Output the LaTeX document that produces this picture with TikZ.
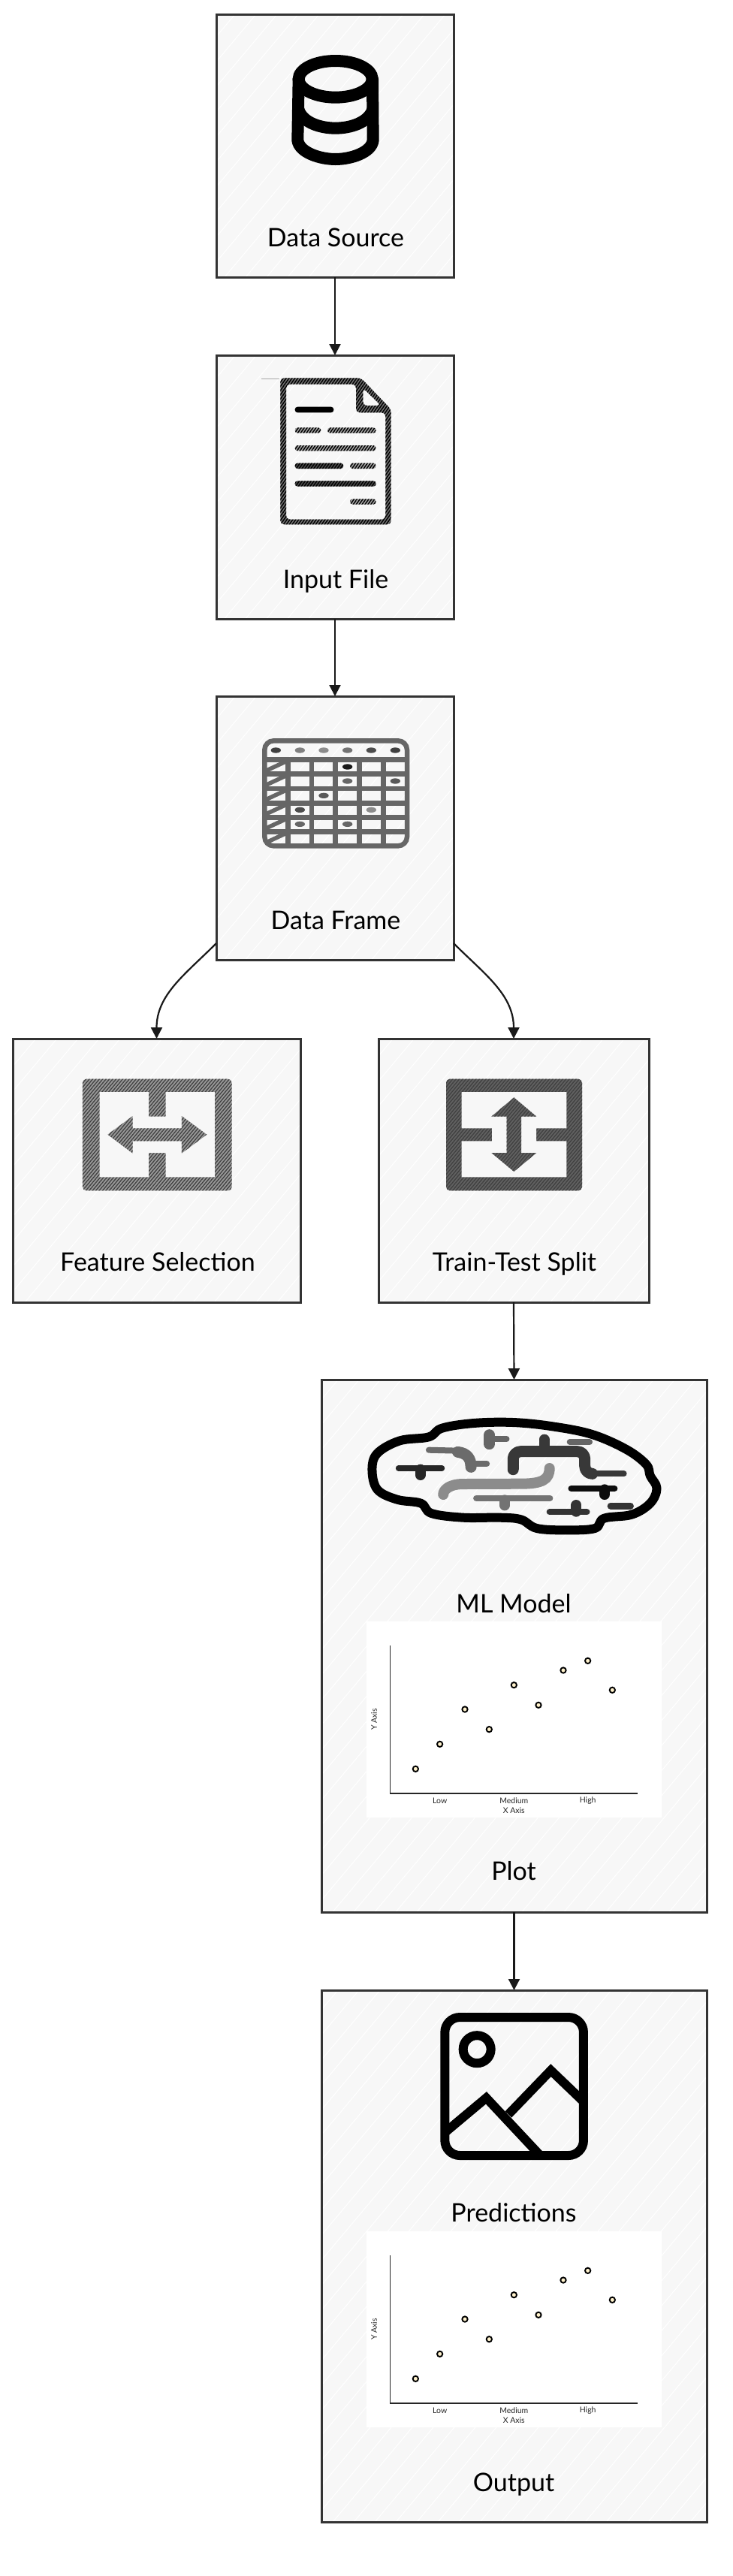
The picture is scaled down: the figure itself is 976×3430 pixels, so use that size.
\documentclass[tikz,border=0pt]{standalone}
\usepackage{fontspec}
\setmainfont{Lato}
\usetikzlibrary{arrows.meta,patterns.meta,calc}
\definecolor{boxfill}{HTML}{F7F7F7}
\definecolor{boxline}{HTML}{333333}
\definecolor{dotfill}{HTML}{FFF2CC}
\tikzset{
  sketchbox/.style={draw=boxline,line width=3pt,fill=boxfill,inner sep=0pt,outer sep=0pt,
    minimum width=#1,
    path picture={\foreach \k in {-22,...,22}{\draw[white,line width=1pt] (\k*28-420,500) -- (\k*28+420,-500);}}},
  boxlabel/.style={font=\fontsize{34}{40}\selectfont,text=black,inner sep=0pt,anchor=base},
  plotlabel/.style={font=\fontsize{10.5}{12}\selectfont,text=black!85,inner sep=0pt},
  flow/.style={draw=black!90,line width=2.2pt,-{Triangle[length=15pt,width=15pt]}},
  hatched/.style={preaction={fill=#1},pattern={Lines[angle=55,distance=3.2pt,line width=1.5pt]},pattern color=black},
  hatchedb/.style={preaction={fill=#1},pattern={Lines[angle=50,distance=3.4pt,line width=1.3pt]},pattern color=black!75},
  fold/.style={line cap=round,line join=round,line width=#1},
  dot/.style={draw=black,line width=1.9pt,fill=dotfill},
  scatterplot/.pic={
    \begin{scope}[x=0.33333pt,y=-0.33333pt]
      \fill[white] (54,58) rectangle (1232,840);
      \draw[black!85,line width=1.3pt] (149,153) -- (149,744) -- (1136,744);
      \foreach \p in {(250,646),(347,547),(447,408),(544,488),(643,311),(741,391),(840,252),(938,214),(1036,331)}
        \path[dot] \p circle[radius=11];
      \node[plotlabel] (low) at (347,773) {Low};
      \node[plotlabel] (medium) at (643,773) {Medium};
      \node[plotlabel] (high) at (938,773) {High};
      \node[plotlabel] (xaxis) at (643,812) {X Axis};
      \node[plotlabel,rotate=90] (yaxis) at (84,448) {Y Axis};
    \end{scope}
  }
}
\begin{document}
\begin{tikzpicture}[x=1pt,y=-1pt]
\useasboundingbox[fill=white] (0,0) rectangle (976,3430);
% boxes
\node[sketchbox=316pt,minimum height=350pt] (ds) at (446,194) {};
\node[sketchbox=316pt,minimum height=351pt] (if) at (446,648.5) {};
\node[sketchbox=316pt,minimum height=351pt] (df) at (446,1102.5) {};
\node[sketchbox=383pt,minimum height=351pt] (fs) at (208.5,1558.5) {};
\node[sketchbox=360pt,minimum height=351pt] (tt) at (684,1558.5) {};
\node[sketchbox=513pt,minimum height=709pt] (ml) at (684.5,2191.5) {};
\node[sketchbox=513pt,minimum height=708pt] (pr) at (684.5,3004) {};
% labels
\node[boxlabel] (dsl) at (447,328) {Data Source};
\node[boxlabel] (ifl) at (447,783) {Input File};
\node[boxlabel] (dfl) at (447,1237) {Data Frame};
\node[boxlabel] (fsl) at (210,1692) {Feature Selection};
\node[boxlabel] (ttl) at (685,1692) {Train-Test Split};
\node[boxlabel] (mll) at (684,2147) {ML Model};
\node[boxlabel] (pll) at (684,2503) {Plot};
\node[boxlabel] (prl) at (684,2958) {Predictions};
\node[boxlabel] (oul) at (684,3317) {Output};
% connectors
\draw[flow] (ds.south) -- (if.north);
\draw[flow] (if.south) -- (df.north);
\draw[flow] ([yshift=22pt]df.south west) to[out=-135,in=90] (fs.north);
\draw[flow] ([yshift=22pt]df.south east) to[out=-45,in=90] (tt.north);
\draw[flow] (tt.south) -- (ml.north);
\draw[flow] (ml.south) -- (pr.north);
% database icon
\begin{scope}[shift={(270,0)},x=0.33333pt,y=-0.33333pt,line width=16pt,draw=black,line cap=round]
  \draw (530,316) ellipse[x radius=147,y radius=73];
  \draw (383,316) -- (379,560) .. controls (385,610) and (470,636) .. (530,636) .. controls (590,636) and (675,610) .. (680,560) -- (678,316);
  \draw (383,440) .. controls (400,490) and (470,512) .. (530,512) .. controls (590,512) and (660,490) .. (678,440);
\end{scope}
% file icon
\begin{scope}[shift={(270,450)},x=0.33333pt,y=-0.33333pt,even odd rule]
  \path[hatched=black!55,rounded corners=5pt]
    (310,160) -- (632,160) -- (752,285) -- (752,745) -- (310,745) -- cycle
    (333,185) -- (612,185) -- (612,298) -- (730,298) -- (730,725) -- (333,725) -- cycle
    (640,200) -- (640,270) -- (712,270) -- cycle;
  \draw[black!35,line width=.5pt] (235,162) -- (305,162);
  \fill[black,rounded corners=3.5pt] (368,275) rectangle (523,298);
  \path[hatched=black!35,rounded corners=3.5pt] (368,358) rectangle (472,380);
  \path[hatched=black!35,rounded corners=3.5pt] (498,358) rectangle (692,380);
  \path[hatched=black!35,rounded corners=3.5pt] (368,429) rectangle (692,451);
  \path[hatched=black!70,rounded corners=3.5pt] (368,500) rectangle (562,522);
  \path[hatched=black!35,rounded corners=3.5pt] (588,500) rectangle (692,522);
  \path[hatched=black!70,rounded corners=3.5pt] (368,571) rectangle (692,593);
  \path[hatched=black!35,rounded corners=3.5pt] (588,643) rectangle (692,665);
\end{scope}
% table icon
\begin{scope}[shift={(270,920)},x=0.33333pt,y=-0.33333pt,draw=black!60,line width=6.5pt]
  \draw[rounded corners=12pt] (247,199) rectangle (816,619);
  \draw (247,275) -- (816,275);
  \foreach \y in {332,390,448,505,562} \draw (247,\y) -- (816,\y);
  \foreach \x in {340,435,530,626,722} \draw (\x,275) -- (\x,619);
  \foreach \y in {275,332,390,448,505,562} \draw[line width=5.5pt] (250,\y+45) -- (338,\y+4);
  \foreach \x/\c in {292/75,388/50,483/45,578/55,673/70,769/75}
    \fill[black!\c] (\x,237) ellipse[x radius=20,y radius=11];
  \fill[black!90] (578,303) ellipse[x radius=20,y radius=11];
  \foreach \x/\y/\c in {578/360/60,769/360/65,483/418/65,388/475/70,673/475/45,388/532/60,578/532/60}
    \fill[black!\c] (\x,\y) ellipse[x radius=20,y radius=11];
\end{scope}
% feature selection icon
\begin{scope}[shift={(0,1360)},x=0.33333pt,y=-0.33333pt,even odd rule]
  \path[hatchedb=black!40,rounded corners=5pt] (330,230) rectangle (926,676);
  \fill[boxfill] (398,282) -- (594,282) -- (594,380) -- (662,380) -- (662,282) -- (858,282) -- (858,622)
    -- (662,622) -- (662,525) -- (594,525) -- (594,622) -- (398,622) -- cycle;
  \path[hatchedb=black!40] (430,452) -- (530,378) -- (530,427) -- (726,427) -- (726,378) -- (826,452) -- (726,527) -- (726,478) -- (530,478) -- (530,527) -- cycle;
\end{scope}
% train-test split icon
\begin{scope}[shift={(490,1360)},x=0.33333pt,y=-0.33333pt,even odd rule]
  \path[hatchedb=black!62,rounded corners=5pt] (312,230) rectangle (855,676);
  \fill[boxfill] (374,282) -- (793,282) -- (793,427) -- (672,427) -- (672,478) -- (793,478) -- (793,622) -- (374,622)
    -- (374,478) -- (495,478) -- (495,427) -- (374,427) -- cycle;
  \path[hatchedb=black!62] (583,304) -- (673,380) -- (612,380) -- (612,525) -- (673,525) -- (583,600) -- (493,525) -- (554,525) -- (554,380) -- (493,380) -- cycle;
\end{scope}
% brain icon
\begin{scope}[shift={(420,1820)},x=0.351pt,y=-0.33333pt]
  \draw[black,line width=12pt,line join=round] plot[smooth cycle,tension=.6] coordinates {
    (215,410) (235,345) (320,295) (430,280) (480,245) (600,225) (750,222) (900,238) (1050,270) (1180,330)
    (1255,390) (1270,435) (1295,485) (1270,545) (1200,590) (1095,605) (1060,645) (950,652) (840,645) (780,610)
    (700,602) (560,602) (440,585) (400,545) (310,530) (235,490)};
  \draw[fold=15pt,black!60] (660,272) -- (660,308);
  \draw[fold=8pt,black!60] (680,288) -- (725,288);
  \draw[fold=8pt,black!58] (430,332) -- (540,335);
  \draw[fold=15pt,black!58] (540,340) .. controls (575,345) and (590,365) .. (590,400);
  \draw[fold=8pt,black!58] (610,387) -- (650,387);
  \draw[fold=7.5pt,black!85] (315,405) -- (480,405);
  \draw[fold=14pt,black!85] (398,410) -- (398,432);
  \draw[fold=15pt,black!78,rounded corners=10pt] (750,410) -- (750,338) -- (1022,338) -- (1022,427) -- (1050,427);
  \draw[fold=8pt,black!78] (1050,427) -- (1170,427);
  \draw[fold=14pt,black!78] (868,290) -- (868,335);
  \draw[fold=8pt,black!60] (965,300) -- (1040,300);
  \draw[fold=14pt,black!45] (888,405) .. controls (888,450) and (860,467) .. (780,467) -- (560,468) .. controls (510,468) and (485,490) .. (485,510);
  \draw[fold=8pt,black!55] (610,525) -- (890,525);
  \draw[fold=14pt,black!55] (718,532) -- (718,553);
  \draw[fold=8pt,black!95] (970,486) -- (1135,486);
  \draw[fold=14pt,black!95] (1097,490) -- (1097,510);
  \draw[fold=8pt,black!80] (888,580) -- (1030,580);
  \draw[fold=14pt,black!80] (990,552) -- (990,578);
  \draw[fold=9pt,black!80] (1120,555) -- (1195,555);
\end{scope}
% plots
\pic (pa) at (470,2140) {scatterplot};
\pic (pb) at (470,2952) {scatterplot};
% image icon
\begin{scope}[shift={(420,2640)},x=0.351pt,y=-0.33333pt,draw=black,line width=12pt]
  \draw[rounded corners=20pt] (491,138) rectangle (1017,690);
  \draw (613,266) circle[radius=18.5pt];
  \draw[line join=miter] (495,595) -- (648,460) -- (848,685);
  \draw[line join=miter] (732,526) -- (893,350) -- (1012,470);
\end{scope}
\end{tikzpicture}
\end{document}
